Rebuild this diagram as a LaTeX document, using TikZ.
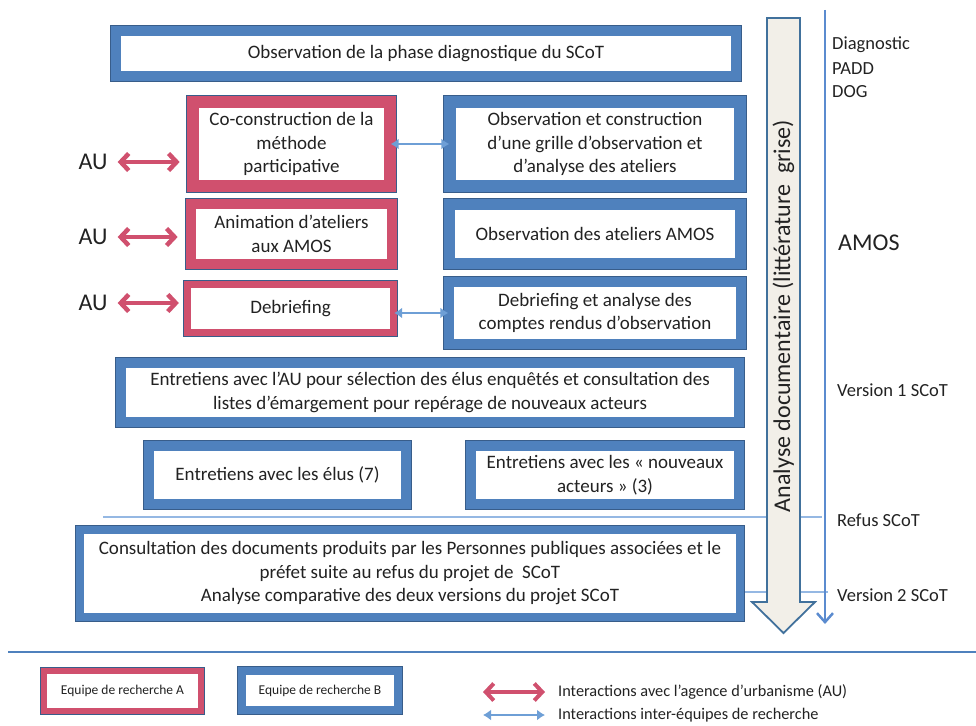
\documentclass[tikz,border=0pt]{standalone}
\usepackage{fontspec}
\setmainfont{Carlito}
\usetikzlibrary{arrows.meta}
\definecolor{bblue}{HTML}{4F81BD}
\definecolor{bout}{HTML}{385D8A}
\definecolor{rred}{HTML}{D0506E}
\definecolor{ablue}{HTML}{6E9FD6}
\definecolor{lblue}{HTML}{95B8E3}
\definecolor{vblue}{HTML}{5B8BCF}
\definecolor{aout}{HTML}{41719C}
\definecolor{beige}{HTML}{F2EFE8}
\definecolor{txt}{HTML}{222222}
\tikzset{
  bx/.style={draw=bout, line width=0.7pt, double=#1, fill=white, inner sep=0pt,
    align=center, text=txt, font=\fontsize{19}{23.5}\selectfont},
  redarr/.style={rred, line width=4.5pt,
    {Straight Barb[length=8pt,width=17pt]}-{Straight Barb[length=8pt,width=17pt]}},
  bluearr/.style={ablue, line width=2.8pt,
    {Latex[length=8pt,width=11pt]}-{Latex[length=8pt,width=11pt]}},
  lab/.style={anchor=west, text=txt, inner sep=0pt, font=\fontsize{18.5}{22}\selectfont},
  aulab/.style={text=txt, inner sep=0pt, font=\fontsize{24}{28}\selectfont},
  leg/.style={anchor=west, text=txt, inner sep=0pt, font=\fontsize{16.3}{19}\selectfont},
}
\begin{document}
\begin{tikzpicture}[x=1pt,y=-1pt]
\useasboundingbox (0,0) rectangle (976,725);

% thin horizontal lines (behind)
\coordinate (r1a) at (103,517); \coordinate (r1b) at (822,517);
\draw[lblue, line width=1.5pt] (r1a) -- (r1b);
\coordinate (r2a) at (745,592); \coordinate (r2b) at (828,592);
\draw[lblue, line width=1.5pt] (r2a) -- (r2b);

% vertical timeline
\coordinate (vt) at (825,10); \coordinate (vb) at (825,624);
\draw[vblue, line width=2.5pt, -{Straight Barb[length=9pt,width=16pt]}] (vt) -- (vb);

% big arrow
\draw[aout, line width=1.8pt, fill=beige, line join=miter]
  (767,18) -- (800,18) -- (800,602) -- (815,602) -- (783.5,633) -- (752,602) -- (767,602) -- cycle;
\node[rotate=90, text=txt, font=\fontsize{24}{28}\selectfont] (ad) at (783.5,316)
  {Analyse documentaire (littérature~~grise)};

% boxes
\node[bx=bblue, double distance=10pt, minimum width=620.6pt, minimum height=45.6pt] (diag) at (426,53.5)
  {Observation de la phase diagnostique du SCoT};
\node[bx=rred, double distance=12pt, minimum width=197.6pt, minimum height=84.6pt] (coco) at (291.5,144)
  {Co-construction de la\\méthode\\participative};
\node[bx=bblue, double distance=12pt, minimum width=290.6pt, minimum height=84.6pt] (grille) at (595,144)
  {Observation et construction\\d’une grille d’observation et\\d’analyse des ateliers};
\node[bx=rred, double distance=10pt, minimum width=201.6pt, minimum height=60.6pt] (anim) at (291.5,234)
  {Animation d’ateliers\\aux AMOS};
\node[bx=bblue, double distance=11pt, minimum width=291.6pt, minimum height=59.6pt] (obsamos) at (595,234)
  {Observation des ateliers AMOS};
\node[bx=rred, double distance=7pt, minimum width=206.6pt, minimum height=48.6pt] (debr) at (290.5,308.5)
  {Debriefing};
\node[bx=bblue, double distance=10pt, minimum width=292.6pt, minimum height=62.6pt] (debran) at (595,313)
  {Debriefing et analyse des\\comptes rendus d’observation};
\node[bx=bblue, double distance=10pt, minimum width=618.6pt, minimum height=59.6pt] (entau) at (430,392.5)
  {Entretiens avec l’AU pour sélection des élus enquêtés et consultation des\\listes d’émargement pour repérage de nouveaux acteurs};
\node[bx=bblue, double distance=10pt, minimum width=257.6pt, minimum height=58.6pt] (elus) at (277.5,475)
  {Entretiens avec les élus (7)};
\node[bx=bblue, double distance=10pt, minimum width=268.6pt, minimum height=58.6pt] (nouv) at (605,475)
  {Entretiens avec les « nouveaux\\acteurs » (3)};
\node[bx=bblue, double distance=8pt, minimum width=660.6pt, minimum height=87.6pt] (cons) at (410,573.5)
  {Consultation des documents produits par les Personnes publiques associées et le\\préfet suite au refus du projet de~~SCoT\\Analyse comparative des deux versions du projet SCoT};

% inter-team arrows
\draw[bluearr] (coco.east) -- (grille.west);
\draw[bluearr] (debr.east |- debran.west) -- (debran.west);

% AU labels and arrows
\node[aulab] (au1) at (93,162) {AU};
\node[aulab] (au2) at (93,237) {AU};
\node[aulab] (au3) at (93,303) {AU};
\draw[redarr, shorten <=10pt, shorten >=12.7pt] (au1.east) -- (au1.east -| coco.west);
\draw[redarr, shorten <=10pt, shorten >=12.7pt] (au2.east) -- (au2.east -| anim.west);
\draw[redarr, shorten <=10pt, shorten >=8pt] (au3.east) -- (au3.east -| debr.west);

% right labels
\node[lab] (t1) at (832,45) {Diagnostic};
\node[lab] (t2) at (832,69) {PADD};
\node[lab] (t3) at (832,92) {DOG};
\node[lab, font=\fontsize{24}{28}\selectfont] (t4) at (838,243) {AMOS};
\node[lab] (t5) at (837,390) {Version 1 SCoT};
\node[lab] (t6) at (837,520) {Refus SCoT};
\node[lab] (t7) at (837,595) {Version 2 SCoT};

% separator
\coordinate (sa) at (8,652); \coordinate (sb) at (976,652);
\draw[bblue, line width=2.5pt] (sa) -- (sb);

% legend
\node[bx=rred, double distance=6pt, minimum width=157.6pt, minimum height=40.6pt,
  font=\fontsize{13.5}{16}\selectfont] (legA) at (122.5,691) {Equipe de recherche A};
\node[bx=bblue, double distance=8pt, minimum width=156.6pt, minimum height=39.6pt,
  font=\fontsize{13.5}{16}\selectfont] (legB) at (320,690.5) {Equipe de recherche B};
\coordinate (la1) at (483,692); \coordinate (la2) at (545,692);
\draw[redarr, line width=4pt] (la1) -- (la2);
\node[leg] (lt1) at (558,692) {Interactions avec l’agence d’urbanisme (AU)};
\coordinate (lb1) at (483,715); \coordinate (lb2) at (545,715);
\draw[bluearr] (lb1) -- (lb2);
\node[leg] (lt2) at (558,715) {Interactions inter-équipes de recherche};
\end{tikzpicture}
\end{document}
